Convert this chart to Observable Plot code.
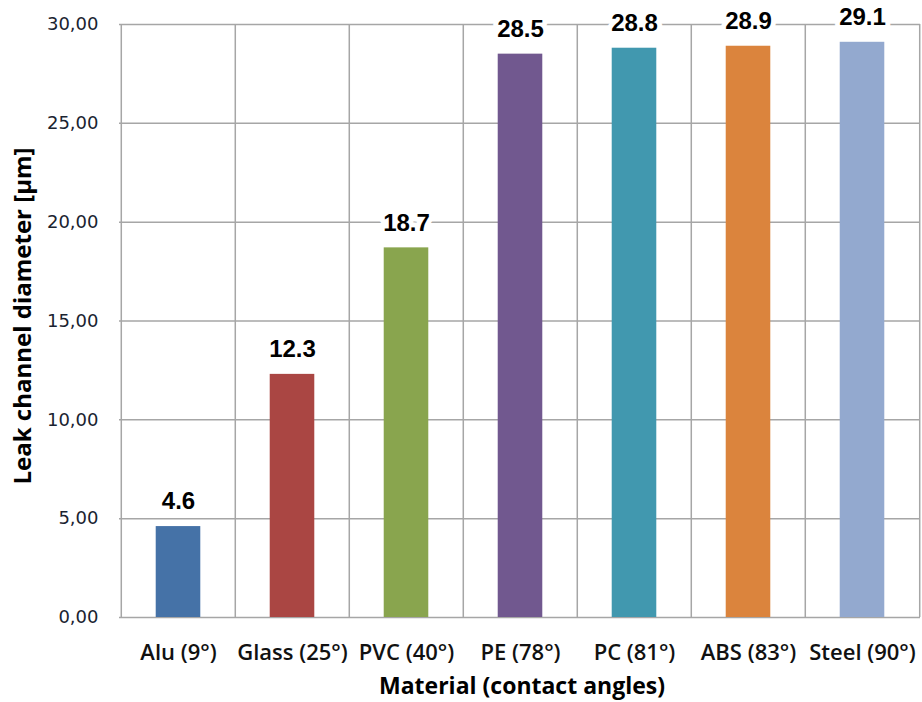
<!DOCTYPE html>
<html>
<head>
<meta charset="utf-8">
<script src="https://cdn.jsdelivr.net/npm/d3@7"></script>
<script src="https://cdn.jsdelivr.net/npm/@observablehq/plot@0.6"></script>
<style>
  html, body { margin: 0; padding: 0; background: #fff; }
  #chart svg { display: block; }
</style>
</head>
<body>
<div id="chart"></div>
<script>
const categories = ["Alu (9°)", "Glass (25°)", "PVC (40°)", "PE (78°)", "PC (81°)", "ABS (83°)", "Steel (90°)"];
const values = [4.6, 12.3, 18.7, 28.5, 28.8, 28.9, 29.1];
const colors = ["#4572a7", "#aa4643", "#89a54e", "#71588f", "#4198af", "#db843d", "#93a9cf"];
const yTicks = [0, 5, 10, 15, 20, 25, 30];
const xTitle = "Material (contact angles)";
const yTitle = "Leak channel diameter [µm]";

const data = categories.map((c, i) => ({category: c, value: values[i], color: colors[i]}));

const W = 922, H = 702;
const mL = 119, mR = 2, mT = 24, mB = 85;
const band = (W - mL - mR) / categories.length;
const barW = 45;
const inset = (band - barW) / 2;
const grid = "#a6a6a6";

const plot = Plot.plot({
  width: W,
  height: H,
  marginLeft: mL,
  marginRight: mR,
  marginTop: mT,
  marginBottom: mB,
  style: {background: "#fff", overflow: "visible"},
  x: {type: "band", domain: categories, padding: 0, label: null},
  y: {domain: [0, 30], label: null},
  marks: [
    Plot.ruleY(yTicks, {stroke: grid, strokeWidth: 1.5}),
    Plot.ruleX(categories, {dx: -band / 2, stroke: grid, strokeWidth: 1.5}),
    Plot.ruleX([categories[categories.length - 1]], {dx: band / 2, stroke: grid, strokeWidth: 1.5}),
    Plot.barY(data, {x: "category", y: "value", fill: "color", insetLeft: inset, insetRight: inset}),
    Plot.text(data, {
      x: "category", y: "value", text: d => d.value.toFixed(1), dy: -25,
      fontSize: 24, fontWeight: "bold", fontFamily: "Liberation Sans, Arial, sans-serif",
      fill: "#000", stroke: "#fff", strokeWidth: 10, strokeLinejoin: "round"
    }),
    Plot.axisY({
      ticks: yTicks, tickSize: 0, tickPadding: 21,
      tickFormat: d => d3.format(".2f")(d).replace(".", ","),
      fontSize: 18, fontFamily: "DejaVu Sans, sans-serif", fill: "#1a2330", label: null
    }),
    Plot.axisX({
      tickSize: 0, tickPadding: 27, fontSize: 22, fontWeight: 600,
      fontFamily: "Open Sans, sans-serif", fill: "#111", label: null
    }),
    Plot.text([xTitle], {
      frameAnchor: "bottom", dy: 76, dx: 2, text: d => d,
      fontSize: 23, fontWeight: "bold", fontFamily: "Open Sans, sans-serif", fill: "#000"
    }),
    Plot.text([yTitle], {
      frameAnchor: "left", textAnchor: "middle", dx: -96, dy: -5, rotate: -90, text: d => d,
      fontSize: 24, fontWeight: "bold", fontFamily: "Open Sans, sans-serif", fill: "#000",
      letterSpacing: 1
    })
  ]
});
document.getElementById("chart").appendChild(plot);
</script>
</body>
</html>
